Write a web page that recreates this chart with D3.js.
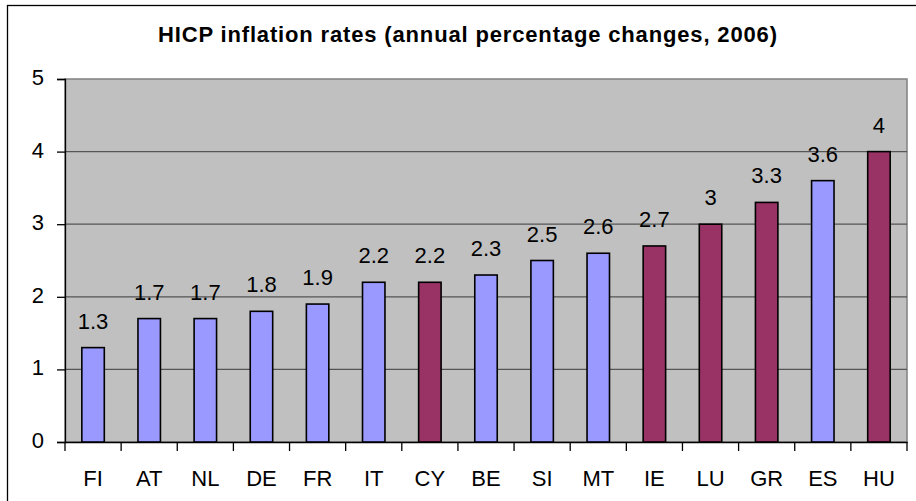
<!DOCTYPE html>
<html><head><meta charset="utf-8">
<script src="https://cdn.jsdelivr.net/npm/d3@7"></script>
<style>body{margin:0;background:#fff;}svg{display:block;font-family:"Liberation Sans",Arial,sans-serif;}</style>
</head><body>
<script>
const categories = ["FI","AT","NL","DE","FR","IT","CY","BE","SI","MT","IE","LU","GR","ES","HU"];
const values = [1.3,1.7,1.7,1.8,1.9,2.2,2.2,2.3,2.5,2.6,2.7,3,3.3,3.6,4];
const groups = ["a","a","a","a","a","a","b","a","a","a","b","b","b","a","b"];
const yTicks = [0,1,2,3,4,5];
const title = "HICP inflation rates (annual percentage changes, 2006)";

const W = 916, H = 501;
const L = 65, R = 907, T = 79, B = 442;
const FS = 22;
const svg = d3.select("body").append("svg").attr("width", W).attr("height", H);
svg.append("rect").attr("x",7.5).attr("y",5.5).attr("width",W).attr("height",H).attr("fill","#fff").attr("stroke","#000").attr("stroke-width",1.3);

const x = d3.scaleBand().domain(categories).range([L,R]).paddingInner(0).paddingOuter(0);
const y = d3.scaleLinear().domain([0,5]).range([B,T]);
const color = d3.scaleOrdinal().domain(["a","b"]).range(["#9999FF","#993366"]);

svg.append("rect").attr("x",L).attr("y",T).attr("width",R-L).attr("height",B-T).attr("fill","#C0C0C0").attr("stroke","#808080").attr("stroke-width",1.5);

svg.append("g").selectAll("line").data(yTicks.filter(d=>d>0 && d<5)).join("line")
  .attr("x1",L).attr("x2",R).attr("y1",d=>y(d)).attr("y2",d=>y(d)).attr("stroke","#555").attr("stroke-width",1.3);

const yAxis = svg.append("g").attr("transform",`translate(${L},0)`)
  .call(d3.axisLeft(y).tickValues(yTicks).tickSize(8).tickPadding(13).tickFormat(d3.format("d")));
yAxis.select(".domain").attr("stroke","#000").attr("stroke-width",1.3);
yAxis.selectAll(".tick line").attr("stroke","#000").attr("stroke-width",1.3);
yAxis.selectAll("text").attr("font-size",FS).attr("fill","#000").attr("dy","0.25em").attr("font-family","Liberation Sans, Arial, sans-serif");

const xAxis = svg.append("g").attr("transform",`translate(0,${B})`)
  .call(d3.axisBottom(x).tickSize(0).tickPadding(28));
xAxis.select(".domain").attr("stroke","#000").attr("stroke-width",1.5);
xAxis.selectAll("text").attr("font-size",FS).attr("fill","#000").attr("font-family","Liberation Sans, Arial, sans-serif");
svg.append("g").selectAll("line").data(d3.range(categories.length+1)).join("line")
  .attr("x1",i=>L+i*x.step()).attr("x2",i=>L+i*x.step()).attr("y1",B).attr("y2",B+9).attr("stroke","#000").attr("stroke-width",1.3);

const bw = x.bandwidth()*0.4;
svg.append("g").selectAll("rect").data(categories).join("rect")
  .attr("x",(d)=>x(d)+x.bandwidth()/2-bw/2).attr("width",bw)
  .attr("y",(d,i)=>y(values[i])).attr("height",(d,i)=>B-y(values[i]))
  .attr("fill",(d,i)=>color(groups[i])).attr("stroke","#000").attr("stroke-width",1.6);

svg.append("g").selectAll("text").data(categories).join("text")
  .attr("x",d=>x(d)+x.bandwidth()/2).attr("y",(d,i)=>y(values[i])-19)
  .attr("text-anchor","middle").attr("font-size",FS).text((d,i)=>values[i]);

svg.append("text").attr("x",467.5).attr("y",42).attr("text-anchor","middle")
  .attr("font-size",22).attr("font-weight","bold")
  .attr("textLength",619).attr("lengthAdjust","spacing").text(title);
</script>
</body></html>
